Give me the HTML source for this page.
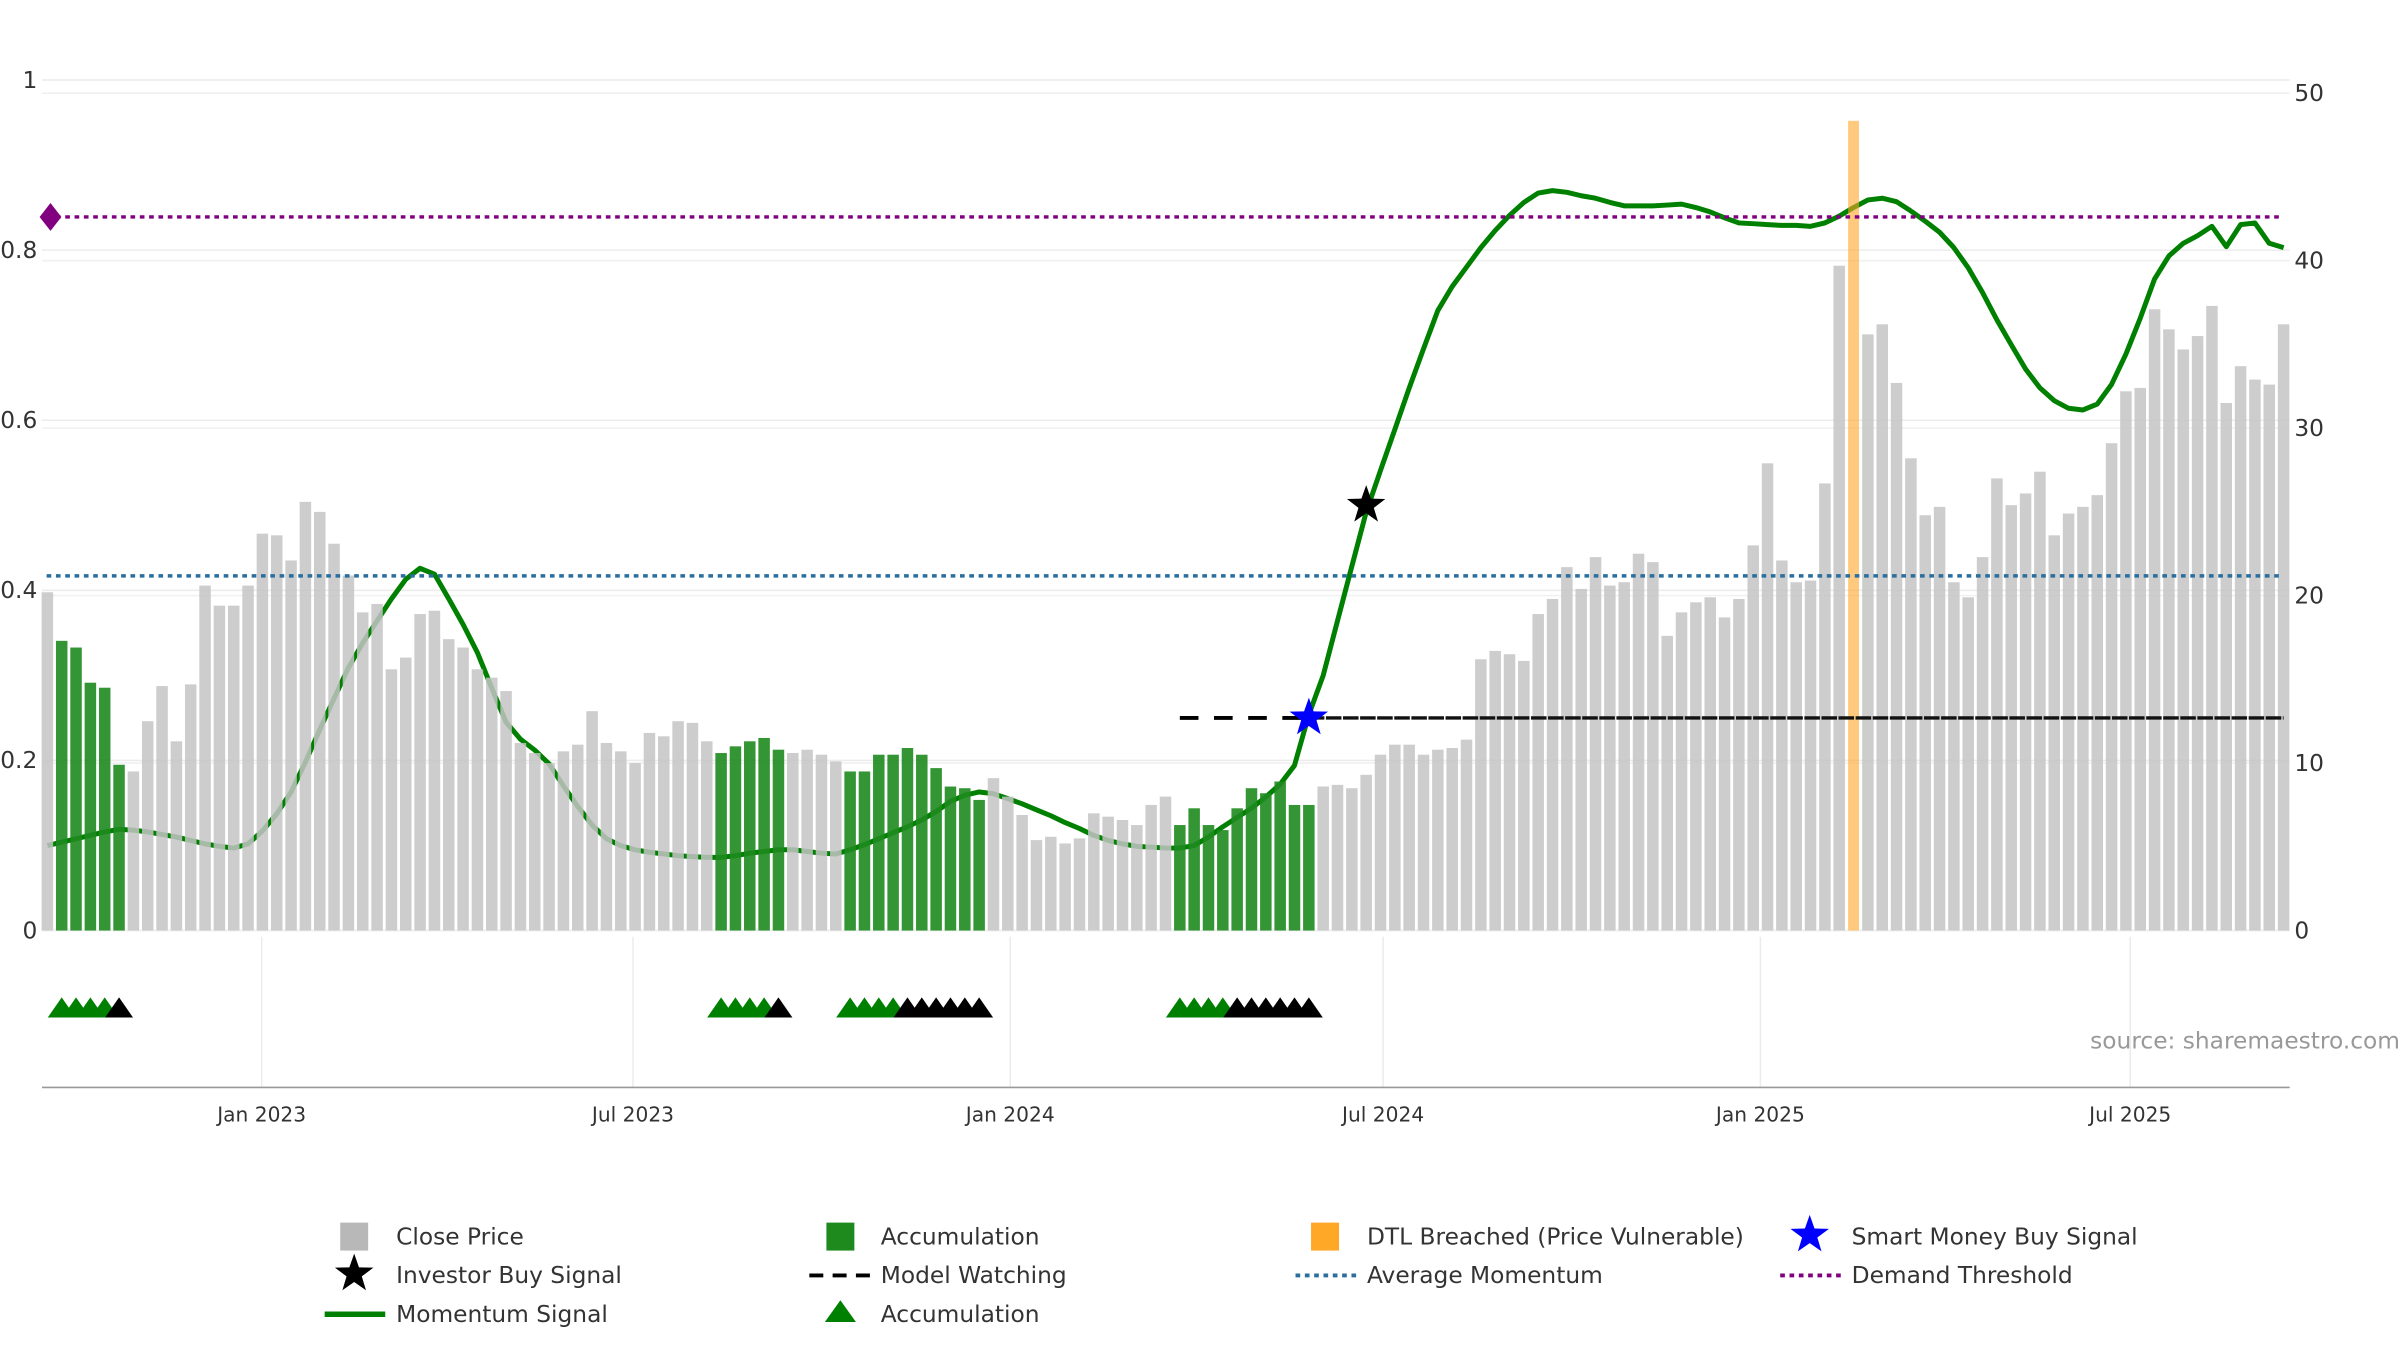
<!DOCTYPE html>
<html><head><meta charset="utf-8"><style>
html,body{margin:0;padding:0;background:#fff;}
svg{display:block;font-family:"DejaVu Sans","Liberation Sans",sans-serif;}
</style></head><body>
<svg id="chart" width="2400" height="1350" viewBox="0 0 1545 869" preserveAspectRatio="none" xmlns="http://www.w3.org/2000/svg">
<g id="grid"></g>
<g id="line-layer"></g>
<g id="bar-layer"></g>
<g id="overlay"></g>
<g id="axes"></g>
<text x="1545" y="675" text-anchor="end" font-size="15" fill="#999">source: sharemaestro.com</text>
<g id="legend" font-size="15" fill="#333">
  <rect x="219" y="787" width="18" height="18" fill="#b8b8b8"/>
  <text x="255" y="801">Close Price</text>
  <rect x="532" y="787" width="18" height="18" fill="#1e8a1e"/>
  <text x="567" y="801">Accumulation</text>
  <rect x="844" y="787" width="18" height="18" fill="#ffa726"/>
  <text x="880" y="801">DTL Breached (Price Vulnerable)</text>
  <polygon id="lg-blue-star" fill="#0000ff"/>
  <text x="1192" y="801">Smart Money Buy Signal</text>
  <polygon id="lg-black-star" fill="#000"/>
  <text x="255" y="826">Investor Buy Signal</text>
  <line x1="521" y1="821" x2="561" y2="821" stroke="#000" stroke-width="2.5" stroke-dasharray="9,6"/>
  <text x="567" y="826">Model Watching</text>
  <line x1="834" y1="821" x2="874" y2="821" stroke="#2a6f9e" stroke-width="2.5" stroke-dasharray="3,3"/>
  <text x="880" y="826">Average Momentum</text>
  <line x1="1146" y1="821" x2="1186" y2="821" stroke="#800080" stroke-width="2.5" stroke-dasharray="3,3"/>
  <text x="1192" y="826">Demand Threshold</text>
  <line x1="209" y1="846" x2="248" y2="846" stroke="#008000" stroke-width="3.5"/>
  <text x="255" y="851">Momentum Signal</text>
  <polygon points="531,851 541,837 551,851" fill="#008000"/>
  <text x="567" y="851">Accumulation</text>
</g>
</svg>
<script>
const prices = [20.2,17.3,16.9,14.8,14.5,9.9,9.5,12.5,14.6,11.3,14.7,20.6,19.4,19.4,20.6,23.7,23.6,22.1,25.6,25.0,
23.1,21.2,19.0,19.5,15.6,16.3,18.9,19.1,17.4,16.9,15.6,15.1,14.3,11.2,10.6,10.0,10.7,11.1,13.1,11.2,
10.7,10.0,11.8,11.6,12.5,12.4,11.3,10.6,11.0,11.3,11.5,10.8,10.6,10.8,10.5,10.1,9.5,9.5,10.5,10.5,
10.9,10.5,9.7,8.6,8.5,7.8,9.1,8.0,6.9,5.4,5.6,5.2,5.5,7.0,6.8,6.6,6.3,7.5,8.0,6.3,
7.3,6.3,6.0,7.3,8.5,8.2,8.9,7.5,7.5,8.6,8.7,8.5,9.3,10.5,11.1,11.1,10.5,10.8,10.9,11.4,
16.2,16.7,16.5,16.1,18.9,19.8,21.7,20.4,22.3,20.6,20.8,22.5,22.0,17.6,19.0,19.6,19.9,18.7,19.8,23.0,
27.9,22.1,20.8,20.9,26.7,39.7,null,35.6,36.2,32.7,28.2,24.8,25.3,20.8,19.9,22.3,27.0,25.4,26.1,27.4,
23.6,24.9,25.3,26.0,29.1,32.2,32.4,37.1,35.9,34.7,35.5,37.3,31.5,33.7,32.9,32.6,36.2];
const momentum = [.100,.104,.108,.112,.116,.119,.118,.116,.113,.110,.106,.102,.099,.097,.102,.117,.137,.163,.198,.236,
.273,.309,.338,.364,.390,.413,.426,.419,.390,.360,.327,.285,.245,.225,.212,.196,.170,.146,.124,.108,
.100,.095,.092,.090,.088,.087,.086,.086,.088,.091,.093,.095,.095,.093,.091,.090,.095,.101,.108,.115,
.122,.130,.140,.152,.159,.163,.161,.155,.149,.142,.135,.127,.120,.112,.106,.102,.099,.098,.097,.097,
.100,.110,.122,.133,.144,.157,.172,.194,.254,.300,.364,.428,.492,.541,.589,.638,.684,.729,.757,.780,
.803,.823,.841,.856,.867,.870,.868,.864,.861,.856,.852,.852,.852,.853,.854,.850,.845,.838,.832,.831,
.830,.829,.829,.828,.832,.840,.850,.859,.861,.857,.846,.834,.821,.803,.779,.750,.718,.689,.660,.638,
.623,.614,.612,.619,.642,.678,.720,.766,.793,.808,.817,.828,.804,.830,.832,.808,.803];
const accumulationBars = [1,2,3,4,5,47,48,49,50,51,56,57,58,59,60,61,62,63,64,65,79,80,81,82,83,84,85,86,87,88];
const greenTriangles = [1,2,3,4,47,48,49,50,56,57,58,59,79,80,81,82];
const blackTriangles = [5,51,60,61,62,63,64,65,83,84,85,86,87,88];
const dtlIndex = [126];
const dtlValue = [0.952];
const avgMomentum = [0.417];
const demandThreshold = [0.839];
const modelWatch = [79, 88, 156, 0.25];
const investorBuy = [92, 0.50];
const smartMoney = [88, 0.25];
const leftTicks = [0, 0.2, 0.4, 0.6, 0.8, 1];
const leftTickLabels = ["0","0.2","0.4","0.6","0.8","1"];
const rightTicks = [0,10,20,30,40,50];
const dateTicks = [14.95, 40.85, 67.17, 93.18, 119.5, 145.3];
const dateLabels = ["Jan 2023","Jul 2023","Jan 2024","Jul 2024","Jan 2025","Jul 2025"];

const NS = "http://www.w3.org/2000/svg";
const x = i => 30.5 + i * 9.228;
const yL = v => 599 - v * 547.5;
const yR = p => 599 - p * 10.78;
function mk(tag, attrs, parent){const e=document.createElementNS(NS,tag);for(const k in attrs)e.setAttribute(k,attrs[k]);parent.appendChild(e);return e;}
function starPts(cx,cy,R,r){let p=[];for(let k=0;k<10;k++){const a=-Math.PI/2+k*Math.PI/5;const rr=k%2?r:R;p.push((cx+rr*Math.cos(a)).toFixed(1)+","+(cy+rr*Math.sin(a)).toFixed(1));}return p.join(" ");}

const grid=document.getElementById('grid'), lineL=document.getElementById('line-layer'), barL=document.getElementById('bar-layer'), ov=document.getElementById('overlay'), axes=document.getElementById('axes');

leftTicks.forEach((t,i)=>{
  const g=mk('line',{x1:27,x2:1474,y1:yL(t),y2:yL(t),stroke:'#ececec','stroke-width':1},grid);
  
  
  const tx=mk('text',{x:24,y:yL(t)+5,'text-anchor':'end','font-size':15,fill:'#333'},axes);
  tx.textContent=leftTickLabels[i];
  
  
});
rightTicks.forEach(t=>{
  const g=mk('line',{x1:27,x2:1474,y1:yR(t),y2:yR(t),stroke:'#f0f0f0','stroke-width':1},grid);
  
  
  const tx=mk('text',{x:1477,y:yR(t)+5,'font-size':15,fill:'#333'},axes);
  tx.textContent=String(t);
  
  
});
dateTicks.forEach((d,i)=>{
  const g=mk('line',{x1:x(d),x2:x(d),y1:603,y2:700,stroke:'#ececec','stroke-width':1},grid);
  
  
  const tx=mk('text',{x:x(d),y:722,'text-anchor':'middle','font-size':13,fill:'#333'},axes);
  tx.textContent=dateLabels[i];
  
  
});
const ax=mk('line',{x1:27,x2:1474,y1:700,y2:700,stroke:'#999','stroke-width':1},axes);



// momentum line
const ml=mk('polyline',{points:momentum.map((v,i)=>x(i).toFixed(1)+","+yL(v).toFixed(1)).join(" "),fill:'none',stroke:'#008000','stroke-width':3.2,'stroke-linejoin':'round'},lineL);



// bars
prices.forEach((p,i)=>{
  if(p===null) return;
  const acc=accumulationBars.includes(i);
  const b=mk('rect',{x:x(i)-3.7,y:yR(p),width:7.4,height:599-yR(p),fill:acc?'#1e8a1e':'#c4c4c4',opacity:acc?0.9:0.85},barL);
  
  
});

// DTL
dtlIndex.forEach((d,k)=>{
  const o=mk('rect',{x:x(d)-3.5,y:yL(dtlValue[k]),width:7,height:599-yL(dtlValue[k]),fill:'#ffa726',opacity:0.6},ov);
  
  
});

// horizontal reference lines
const am=mk('line',{x1:30,x2:1470,y1:yL(avgMomentum[0]),y2:yL(avgMomentum[0]),stroke:'#2a6f9e','stroke-width':2.2,'stroke-dasharray':'3,3'},ov);


const dt=mk('line',{x1:30,x2:1470,y1:yL(demandThreshold[0]),y2:yL(demandThreshold[0]),stroke:'#800080','stroke-width':2.2,'stroke-dasharray':'3,3'},ov);


const dm=mk('polygon',{points:`${x(0)-5},${yL(demandThreshold[0])} ${x(0)+2},${yL(demandThreshold[0])-9} ${x(0)+9},${yL(demandThreshold[0])} ${x(0)+2},${yL(demandThreshold[0])+9}`,fill:'#800080'},ov);



// model watching
const mw1=mk('line',{x1:x(modelWatch[0]),x2:x(modelWatch[1]),y1:yL(modelWatch[3]),y2:yL(modelWatch[3]),stroke:'#000','stroke-width':2.5,'stroke-dasharray':'12,10'},ov);


const mw2=mk('line',{x1:x(modelWatch[1]),x2:x(modelWatch[2]),y1:yL(modelWatch[3]),y2:yL(modelWatch[3]),stroke:'#111','stroke-width':2.2,'stroke-dasharray':'10,1'},ov);



// stars
const bs=mk('polygon',{points:starPts(x(smartMoney[0]),yL(smartMoney[1]),13,5.2),fill:'#0000ff'},ov);


const ks=mk('polygon',{points:starPts(x(investorBuy[0]),yL(investorBuy[1]),13,5.2),fill:'#000'},ov);



// triangles
function tri(i,color,name){
  const cx=x(i);
  const t=mk('polygon',{points:`${cx-9},655 ${cx},642 ${cx+9},655`,fill:color},ov);
  
  
}
greenTriangles.forEach(i=>tri(i,'#008000','accumulation-triangle'));
blackTriangles.forEach(i=>tri(i,'#000','accumulation-watch-triangle'));

document.getElementById('lg-blue-star').setAttribute('points',starPts(1165,795,13,5.2));
document.getElementById('lg-black-star').setAttribute('points',starPts(228,820,13,5.2));
</script>
</body></html>
